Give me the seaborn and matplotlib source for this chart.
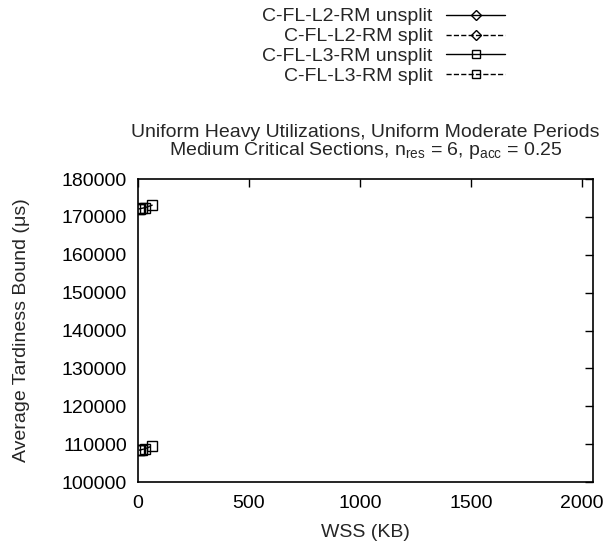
import matplotlib
matplotlib.use("Agg")
import matplotlib.pyplot as plt
import seaborn as sns
import pandas as pd
from matplotlib.lines import Line2D

sns.set_theme(style="white")
plt.rcParams['font.family'] = ['Liberation Sans', 'DejaVu Sans']
plt.rcParams['mathtext.fontset'] = 'custom'
plt.rcParams['mathtext.rm'] = 'Liberation Sans'
plt.rcParams['mathtext.it'] = 'Liberation Sans'

# Data
wss_l3 = [4, 8, 16, 32, 64]
l3_unsplit = [172100, 172150, 172250, 172450, 173100]
l3_split = [108400, 108450, 108550, 108800, 109500]
wss_l2 = []
l2_unsplit = []
l2_split = []

labels = ["C-FL-L2-RM unsplit", "C-FL-L2-RM split",
          "C-FL-L3-RM unsplit", "C-FL-L3-RM split"]
xticks = [0, 500, 1000, 1500, 2000]
yticks = [100000, 110000, 120000, 130000, 140000, 150000, 160000, 170000, 180000]

fig = plt.figure(figsize=(6.13, 5.5), dpi=100)
ax = fig.add_axes([0.2251, 0.1236, 0.9674 - 0.2251, 0.6745 - 0.1236])

df_u = pd.DataFrame({"wss": wss_l3, "val": l3_unsplit})
df_s = pd.DataFrame({"wss": wss_l3, "val": l3_split})
sns.lineplot(data=df_u, x="wss", y="val", ax=ax, color="black", lw=1,
             marker="s", markersize=6.5, markerfacecolor="none",
             markeredgecolor="black", markeredgewidth=1, legend=False)
sns.lineplot(data=df_s, x="wss", y="val", ax=ax, color="black", lw=1,
             linestyle="--", marker="s", markersize=6.5, markerfacecolor="none",
             markeredgecolor="black", markeredgewidth=1, legend=False)
ax.plot(wss_l2, l2_unsplit, color="black", lw=1, marker="D")
ax.plot(wss_l2, l2_split, color="black", lw=1, ls="--", marker="D")

ax.set_xlim(0, 2050)
ax.set_ylim(100000, 180000)
ax.set_xticks(xticks)
ax.set_yticks(yticks)
ax.tick_params(direction="in", length=6, width=1, top=True, right=True,
               labelsize=14, colors="black", pad=8)
ax.tick_params(axis="x", pad=9)
for s in ax.spines.values():
    s.set_visible(True)
    s.set_color("black")
    s.set_linewidth(1.2)

ax.set_xlabel("WSS (KB)", fontsize=14, labelpad=9)
ax.set_ylabel("Average Tardiness Bound (\u03bcs)", fontsize=14, labelpad=23)
ax.set_title("Uniform Heavy Utilizations, Uniform Moderate Periods\n"
             "Medium Critical Sections, $n_{\\mathrm{res}}$ = 6, $p_{\\mathrm{acc}}$ = 0.25",
             fontsize=14, linespacing=0.95, pad=17)

handles = [
    Line2D([], [], color="black", lw=1, marker="D", markersize=5,
           markerfacecolor="none", markeredgecolor="black"),
    Line2D([], [], color="black", lw=1, ls="--", marker="D", markersize=5,
           markerfacecolor="none", markeredgecolor="black"),
    Line2D([], [], color="black", lw=1, marker="s", markersize=6,
           markerfacecolor="none", markeredgecolor="black"),
    Line2D([], [], color="black", lw=1, ls="--", marker="s", markersize=6,
           markerfacecolor="none", markeredgecolor="black"),
]
fig.legend(handles, labels, loc="upper right", bbox_to_anchor=(0.836, 1.0),
           frameon=False, markerfirst=False, fontsize=14, handlelength=3.0,
           labelspacing=0.12, handletextpad=0.7, borderaxespad=0)

fig.savefig("out.png", dpi=100)
